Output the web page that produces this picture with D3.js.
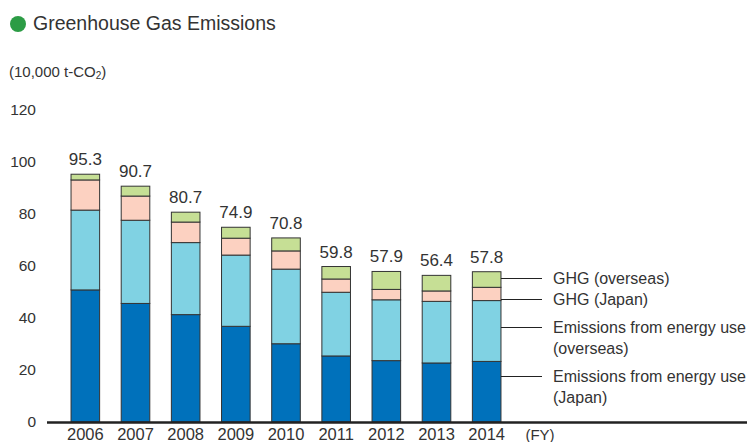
<!DOCTYPE html>
<html>
<head>
<meta charset="utf-8">
<script src="https://cdn.jsdelivr.net/npm/d3@7"></script>
<style>
  body { margin: 0; background: #fff; }
  svg { display: block; font-family: "Liberation Sans", Arial, sans-serif; }
</style>
</head>
<body>
<svg id="chart" width="747" height="442"></svg>
<script>
const years = ["2006", "2007", "2008", "2009", "2010", "2011", "2012", "2013", "2014"];
const energyJapan    = [50.8, 45.6, 41.3, 36.8, 30.1, 25.4, 23.6, 22.7, 23.3];
const energyOverseas = [30.7, 32.0, 27.7, 27.4, 28.7, 24.5, 23.4, 23.7, 23.4];
const ghgJapan       = [11.6,  9.3,  7.9,  6.5,  7.0,  5.1,  4.0,  4.0,  5.1];
const ghgOverseas    = [ 2.2,  3.8,  3.8,  4.2,  5.0,  4.8,  6.9,  6.0,  6.0];
const totals         = [95.3, 90.7, 80.7, 74.9, 70.8, 59.8, 57.9, 56.4, 57.8];
const yTicks = [0, 20, 40, 60, 80, 100, 120];

const seriesKeys = ["energyJapan", "energyOverseas", "ghgJapan", "ghgOverseas"];
const colors = ["#0071bb", "#80d2e3", "#fcd1c1", "#c6df95"];
// legend labels and the value where each leader line meets the last bar
const legendLabels = [
  ["Emissions from energy use", "(Japan)"],
  ["Emissions from energy use", "(overseas)"],
  ["GHG (Japan)"],
  ["GHG (overseas)"]
];
const legendAt = [17.7, 36.5, 47.2, 55.3];

const table = years.map((y, i) => ({
  year: y,
  energyJapan: energyJapan[i],
  energyOverseas: energyOverseas[i],
  ghgJapan: ghgJapan[i],
  ghgOverseas: ghgOverseas[i],
  total: totals[i]
}));

const svg = d3.select("#chart");
const textColor = "#333";

// Title
svg.append("circle").attr("cx", 18).attr("cy", 24).attr("r", 8).attr("fill", "#2c9c45");
svg.append("text").attr("x", 33).attr("y", 30)
  .attr("font-size", 19.5).attr("fill", textColor).text("Greenhouse Gas Emissions");

const unit = svg.append("text").attr("x", 9).attr("y", 77)
  .attr("font-size", 15).attr("fill", textColor);
unit.append("tspan").text("(10,000 t-CO");
unit.append("tspan").attr("font-size", 10).attr("dy", 2).text("2");
unit.append("tspan").attr("dy", -2).text(")");

const x = d3.scaleBand().domain(years).range([61, 511]).paddingInner(0.43).paddingOuter(0.2);
const y = d3.scaleLinear().domain([0, 120]).range([422, 110]);

// Y tick labels (no axis line)
svg.append("g").selectAll("text").data(yTicks).join("text")
  .attr("x", 36).attr("y", d => y(d)).attr("dy", "0.35em")
  .attr("text-anchor", "end").attr("font-size", 15.5).attr("fill", textColor)
  .text(d => d);

const stack = d3.stack().keys(seriesKeys)(table);

svg.append("g").selectAll("g").data(stack).join("g")
  .attr("fill", (d, i) => colors[i])
  .selectAll("rect").data(d => d).join("rect")
  .attr("x", d => x(d.data.year))
  .attr("y", d => y(d[1]))
  .attr("width", x.bandwidth())
  .attr("height", d => y(d[0]) - y(d[1]))
  .attr("stroke", "#333").attr("stroke-width", 1);

// Totals
svg.append("g").selectAll("text").data(table).join("text")
  .attr("x", d => x(d.year) + x.bandwidth() / 2)
  .attr("y", d => y(d.total) - 9)
  .attr("text-anchor", "middle").attr("font-size", 17).attr("fill", textColor)
  .text(d => d.total.toFixed(1));

// Baseline
svg.append("line").attr("x1", 47).attr("x2", 747).attr("y1", y(0) + 0.5).attr("y2", y(0) + 0.5)
  .attr("stroke", "#222").attr("stroke-width", 2.5);

// Year labels
svg.append("g").selectAll("text").data(years).join("text")
  .attr("x", d => x(d) + x.bandwidth() / 2).attr("y", 440)
  .attr("text-anchor", "middle").attr("font-size", 16.5).attr("fill", textColor)
  .text(d => d);
svg.append("text").attr("x", 540).attr("y", 440).attr("text-anchor", "middle")
  .attr("font-size", 15).attr("fill", textColor).text("(FY)");

// Legend leaders
const lastX = x(years[years.length - 1]) + x.bandwidth();
const leg = svg.append("g").selectAll("g").data(legendLabels).join("g");
leg.append("line")
  .attr("x1", lastX).attr("x2", 542)
  .attr("y1", (d, i) => Math.round(y(legendAt[i])) + 0.5)
  .attr("y2", (d, i) => Math.round(y(legendAt[i])) + 0.5)
  .attr("stroke", "#222").attr("stroke-width", 1);
leg.each(function(d, i) {
  const t = d3.select(this).append("text")
    .attr("x", 553).attr("y", y(legendAt[i])).attr("dy", "0.35em")
    .attr("font-size", 16).attr("fill", textColor);
  d.forEach((line, j) => {
    t.append("tspan").attr("x", 553).attr("dy", j === 0 ? "0.35em" : 21).text(line);
  });
});
</script>
</body>
</html>
